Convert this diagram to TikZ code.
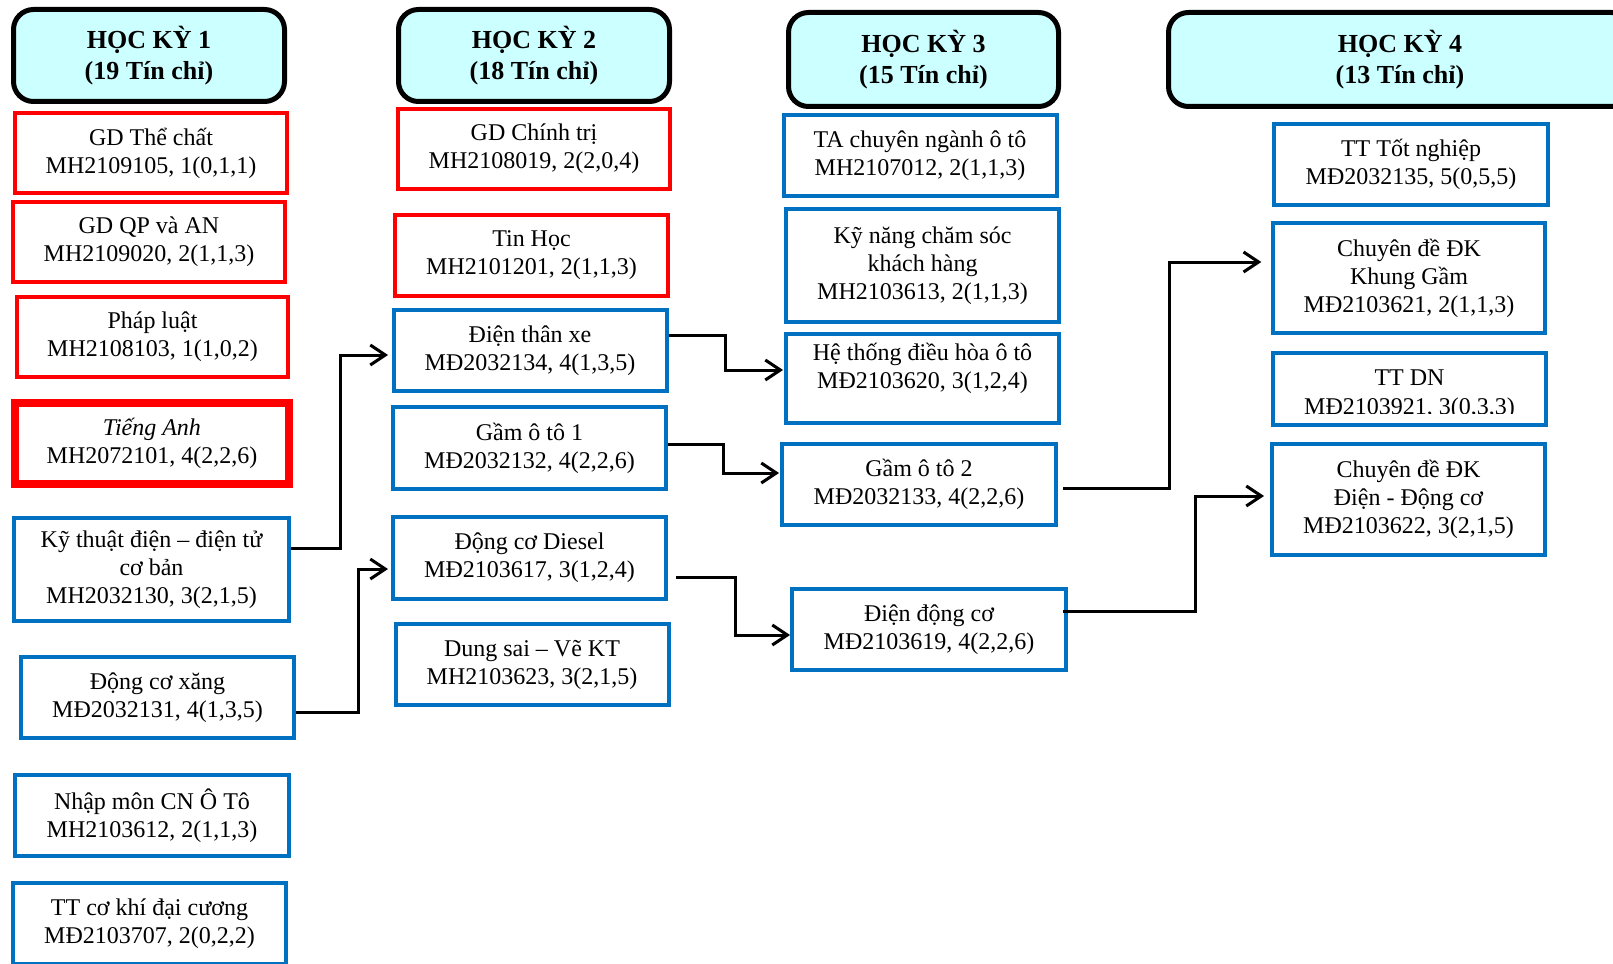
\documentclass[tikz,border=0pt]{standalone}
\usepackage{fontspec}
\setmainfont{Liberation Serif}
\usetikzlibrary{arrows.meta}
\definecolor{myred}{RGB}{255,0,0}
\definecolor{myblue}{RGB}{0,112,192}
\definecolor{headfill}{RGB}{204,255,255}
\newcommand{\bodyfnt}{\fontsize{24}{28}\selectfont}
\newcommand{\headfnt}{\fontsize{26}{31}\selectfont\bfseries}
\tikzset{
  txt/.style={align=center, font=\bodyfnt, inner sep=0pt},
  rbox/.style={txt, draw=myred, line width=4pt},
  bbox/.style={txt, draw=myblue, line width=4pt},
  head/.style={align=center, font=\headfnt, inner sep=0pt, draw=black, fill=headfill, line width=5pt, rounded corners=20pt},
  arr/.style={draw=black, line width=3pt, -{Straight Barb[length=15pt,width=20pt]}}
}
\begin{document}
\begin{tikzpicture}[x=1pt,y=-1pt]
\clip (0,0) rectangle (1613,963);
\fill[white] (0,0) rectangle (1613,963);
% headers
\node[head, minimum width=271pt, minimum height=92pt] (h1) at (149,55.5) {HỌC KỲ 1\\(19 Tín chỉ)};
\node[head, minimum width=271pt, minimum height=92pt] (h2) at (534,55.5) {HỌC KỲ 2\\(18 Tín chỉ)};
\node[head, minimum width=270pt, minimum height=94pt] (h3) at (923.5,59.5) {HỌC KỲ 3\\(15 Tín chỉ)};
\node[head, minimum width=463pt, minimum height=94pt] (h4) at (1400,59.5) {HỌC KỲ 4\\(13 Tín chỉ)};
% column 1
\node[rbox, minimum width=272pt, minimum height=80pt] (gdtc) at (151,153) {GD Thể chất\\MH2109105, 1(0,1,1)};
\node[rbox, minimum width=272pt, minimum height=80pt] (gdqp) at (149,242) {GD QP và AN\\MH2109020, 2(1,1,3)};
\node[rbox, minimum width=271pt, minimum height=80pt] (pl) at (152.5,337) {Pháp luật\\MH2108103, 1(1,0,2)};
\node[rbox, line width=8pt, minimum width=274pt, minimum height=81pt] (ta) at (152,443.5) {\textit{Tiếng Anh}\\MH2072101, 4(2,2,6)};
\node[bbox, minimum width=275pt, minimum height=103pt] (ktd) at (151.5,569.5) {Kỹ thuật điện – điện tử\\cơ bản\\MH2032130, 3(2,1,5)};
\node[bbox, minimum width=273pt, minimum height=81pt] (dcx) at (157.5,697.5) {Động cơ xăng\\MĐ2032131, 4(1,3,5)};
\node[bbox, minimum width=274pt, minimum height=81pt] (nm) at (152,815.5) {Nhập môn CN Ô Tô\\MH2103612, 2(1,1,3)};
\node[bbox, minimum width=273pt, minimum height=81pt] (tt) at (149.5,923.5) {TT cơ khí đại cương\\MĐ2103707, 2(0,2,2)};
% column 2
\node[rbox, minimum width=272pt, minimum height=80pt] (gdct) at (534,149) {GD Chính trị\\MH2108019, 2(2,0,4)};
\node[rbox, minimum width=273pt, minimum height=81pt] (tin) at (531.5,255.5) {Tin Học\\MH2101201, 2(1,1,3)};
\node[bbox, minimum width=273pt, minimum height=81pt] (dtx) at (530,350.5) {Điện thân xe\\MĐ2032134, 4(1,3,5)};
\node[bbox, minimum width=273pt, minimum height=82pt] (g1) at (529.5,448) {Gầm ô tô 1\\MĐ2032132, 4(2,2,6)};
\node[bbox, minimum width=273pt, minimum height=82pt] (dsl) at (529.5,558) {Động cơ Diesel\\MĐ2103617, 3(1,2,4)};
\node[bbox, minimum width=273pt, minimum height=81pt] (ds) at (532,664.5) {Dung sai – Vẽ KT\\MH2103623, 3(2,1,5)};
% column 3
\node[bbox, minimum width=273pt, minimum height=81pt] (ta3) at (920,155.5) {TA chuyên ngành ô tô\\MH2107012, 2(1,1,3)};
\node[bbox, minimum width=273pt, minimum height=113pt] (kn) at (922.5,265.5) {Kỹ năng chăm sóc\\khách hàng\\MH2103613, 2(1,1,3)};
\node[bbox, minimum width=273pt, minimum height=89pt] (ht) at (922.5,378.5) {};
\node[txt] (htt) at (922.5,368) {Hệ thống điều hòa ô tô\\MĐ2103620, 3(1,2,4)};
\node[bbox, minimum width=274pt, minimum height=81pt] (g2) at (919,484.5) {Gầm ô tô 2\\MĐ2032133, 4(2,2,6)};
\node[bbox, minimum width=274pt, minimum height=81pt] (ddc) at (929,629.5) {Điện động cơ\\MĐ2103619, 4(2,2,6)};
% column 4
\node[bbox, minimum width=273.5pt, minimum height=81pt] (ttn) at (1411,164.5) {TT Tốt nghiệp\\MĐ2032135, 5(0,5,5)};
\node[bbox, minimum width=272.5pt, minimum height=110pt] (kg) at (1409,278) {Chuyên đề ĐK\\Khung Gầm\\MĐ2103621, 2(1,1,3)};
\node[bbox, minimum width=273pt, minimum height=72pt] (tdn) at (1409.5,389) {};
\begin{scope}
  \clip (1260,340) rectangle (1560,413.5);
  \node[txt, anchor=base] (tdn1) at (1409.5,385) {TT DN};
  \node[txt, anchor=base] (tdn2) at (1409.5,414.5) {MĐ2103921, 3(0,3,3)};
\end{scope}
\node[bbox, minimum width=273pt, minimum height=111pt] (dc) at (1408.5,499.5) {Chuyên đề ĐK\\Điện - Động cơ\\MĐ2103622, 3(2,1,5)};
% connectors
\draw[arr] ([yshift=21.5pt]ktd.east) -- ++(49,0) |- ([xshift=-3.5pt,yshift=-4.5pt]dtx.west);
\draw[arr] ([yshift=-14.5pt]dcx.east) -- ++(62,0) |- ([xshift=-3pt,yshift=-11pt]dsl.west);
\draw[arr] ([yshift=15.5pt]dtx.east) -- ++(57,0) |- ([xshift=-1pt,yshift=8.5pt]ht.west);
\draw[arr] ([yshift=4pt]g1.east) -- ++(55,0) |- ([xshift=-1pt,yshift=11.5pt]g2.west);
\draw[arr] ([xshift=8pt,yshift=-19pt]dsl.east) -- ++(59,0) |- ([yshift=-5.5pt]ddc.west);
\draw[arr] ([xshift=5pt,yshift=-3.5pt]g2.east) -- ++(106,0) |- ([xshift=-9.5pt,yshift=16pt]kg.west);
\draw[arr] ([xshift=-5pt,yshift=18.5pt]ddc.east) -- ++(132,0) |- ([xshift=-6pt,yshift=3.5pt]dc.west);
\end{tikzpicture}
\end{document}
